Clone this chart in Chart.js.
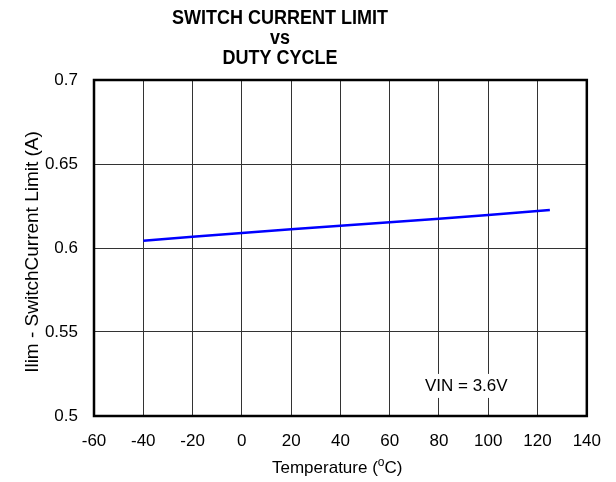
<!DOCTYPE html>
<html>
<head>
<meta charset="utf-8">
<script src="https://cdn.jsdelivr.net/npm/chart.js@4"></script>
<style>
  body { margin: 0; background: #fff; }
</style>
</head>
<body>
<canvas id="limit-chart" width="616" height="482"></canvas>
<script>
const temps = [-40, -20, 0, 20, 40, 60, 80, 100, 120, 125];
const ilim = [0.6043, 0.6067, 0.6089, 0.6111, 0.6133, 0.6153, 0.6174, 0.6196, 0.622, 0.6226];
const titleLines = ["SWITCH CURRENT LIMIT", "vs", "DUTY CYCLE"];
const yLabel = "Ilim - SwitchCurrent Limit (A)";
const note = "VIN = 3.6V";

const fontFamily = "'Liberation Sans', Arial, sans-serif";

// title, frame, note, axis titles
const extras = {
  id: "extras",
  afterDraw(chart) {
    const { ctx, chartArea: a, scales } = chart;
    ctx.save();
    ctx.strokeStyle = "#000";
    ctx.lineWidth = 2.5;
    ctx.strokeRect(a.left, a.top, a.right - a.left, a.bottom - a.top);

    // title, a bit narrow like the original
    ctx.fillStyle = "#000";
    ctx.font = "bold 20px " + fontFamily;
    ctx.textAlign = "center";
    ctx.textBaseline = "alphabetic";
    const baselines = [24, 43.5, 64];
    titleLines.forEach((line, i) => {
      ctx.save();
      ctx.translate(280, baselines[i]);
      ctx.scale(0.9, 1);
      ctx.fillText(line, 0, 0);
      ctx.restore();
    });

    // note
    ctx.font = "17px " + fontFamily;
    ctx.textBaseline = "middle";
    ctx.textAlign = "left";
    const nx = scales.x.getPixelForValue(74.3);
    const ny = scales.y.getPixelForValue(0.5179);
    const w = ctx.measureText(note).width;
    ctx.fillStyle = "#fff";
    ctx.fillRect(nx - 4, ny - 12, w + 8, 24);
    ctx.fillStyle = "#000";
    ctx.fillText(note, nx, ny);

    // y axis title
    ctx.save();
    ctx.font = "19px " + fontFamily;
    ctx.textAlign = "center";
    ctx.translate(33, 252);
    ctx.rotate(-Math.PI / 2);
    ctx.fillText(yLabel, 0, 0);
    ctx.restore();

    // x axis title (with superscript o)
    const main = "Temperature (";
    const sup = "o";
    const end = "C)";
    ctx.textAlign = "left";
    ctx.font = "17px " + fontFamily;
    const w1 = ctx.measureText(main).width;
    const w3 = ctx.measureText(end).width;
    ctx.font = "12px " + fontFamily;
    const w2 = ctx.measureText(sup).width;
    let x = 272;
    const y = 468;
    ctx.font = "17px " + fontFamily;
    ctx.fillText(main, x, y);
    x += w1;
    ctx.font = "12px " + fontFamily;
    ctx.fillText(sup, x, y - 5);
    x += w2;
    ctx.font = "17px " + fontFamily;
    ctx.fillText(end, x, y);
    ctx.restore();
  },
};

new Chart(document.getElementById("limit-chart"), {
  type: "line",
  data: {
    datasets: [
      {
        label: "Ilim",
        data: temps.map((t, i) => ({ x: t, y: ilim[i] })),
        borderColor: "#0000ff",
        borderWidth: 2.5,
        pointRadius: 0,
        tension: 0,
      },
    ],
  },
  options: {
    responsive: false,
    animation: false,
    layout: { padding: { left: 0, right: 26, bottom: 0, top: 80 } },
    plugins: {
      legend: { display: false },
      tooltip: { enabled: false },
      title: { display: false },
    },
    scales: {
      x: {
        type: "linear",
        min: -60,
        max: 140,
        ticks: { stepSize: 20, color: "#000", padding: 15, font: { family: fontFamily, size: 17 } },
        grid: { color: "#333", lineWidth: 1, drawTicks: false },
        border: { display: false },
        afterFit(scale) { scale.height = 66; },
      },
      y: {
        min: 0.5,
        max: 0.7,
        ticks: {
          stepSize: 0.05,
          color: "#000",
          padding: 16,
          font: { family: fontFamily, size: 17 },
          callback: (v) => String(Math.round(v * 100) / 100),
        },
        grid: { color: "#333", lineWidth: 1, drawTicks: false },
        border: { display: false },
        afterFit(scale) { scale.width = 94; },
      },
    },
  },
  plugins: [extras],
});
</script>
</body>
</html>
